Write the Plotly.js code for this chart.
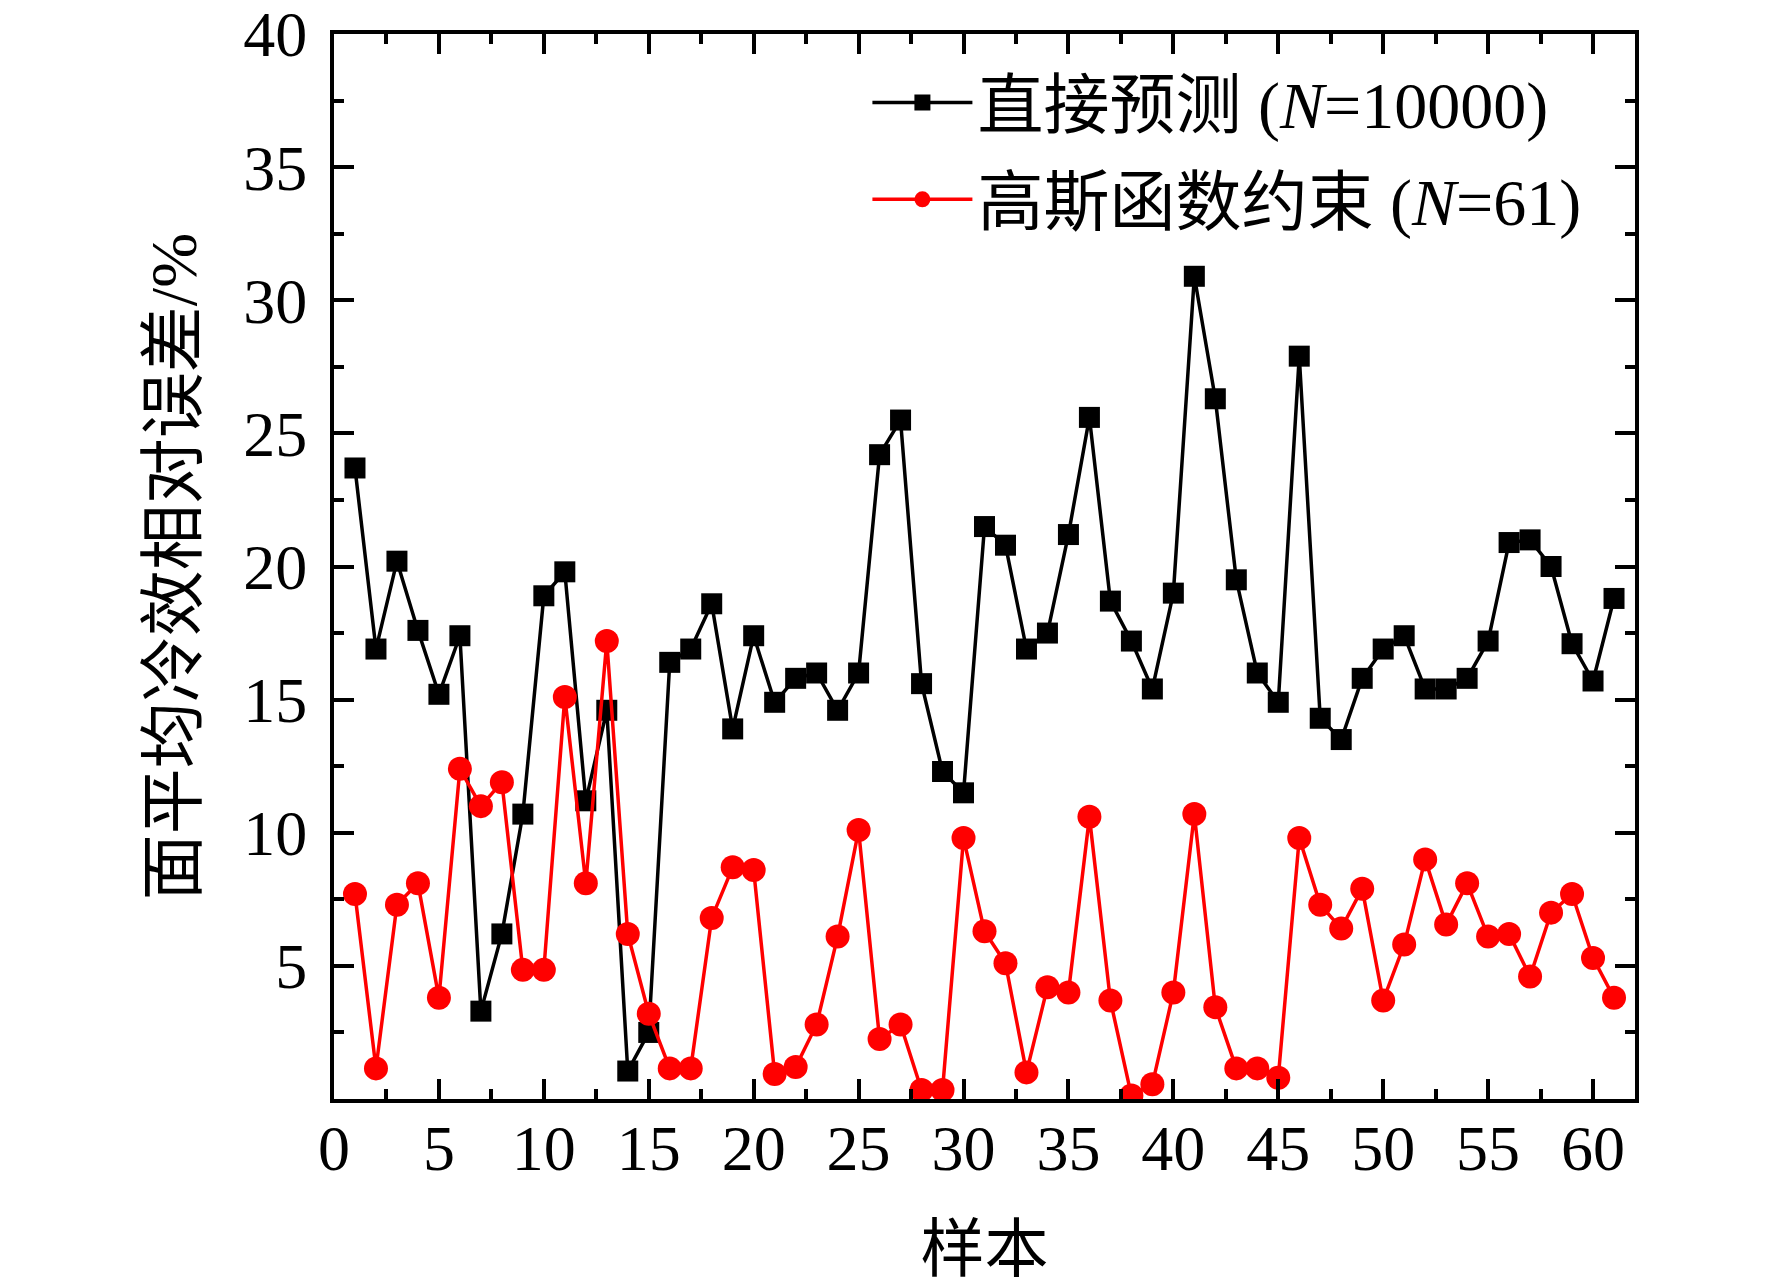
<!DOCTYPE html>
<html>
<head>
<meta charset="utf-8">
<script src="https://cdn.plot.ly/plotly-3.0.1.min.js"></script>
<style>html,body{margin:0;padding:0;background:#fff;}#chart{width:1772px;height:1285px;}</style>
</head>
<body>
<div id="chart"></div>
<script>
const samples = Array.from({length: 61}, (_, i) => i + 1);
const directPred = [23.7,16.9,20.2,17.6,15.2,17.4,3.3,6.2,10.7,18.9,19.8,11.2,14.6,1.05,2.5,16.4,16.9,18.6,13.9,17.4,14.9,15.8,16.0,14.6,16.0,24.2,25.5,15.6,12.3,11.5,21.5,20.8,16.9,17.5,21.2,25.6,18.7,17.2,15.4,19.0,30.9,26.3,19.5,16.0,14.9,27.9,14.3,13.5,15.8,16.9,17.4,15.4,15.4,15.8,17.2,20.9,21.0,20.0,17.1,15.7,18.8];
const gaussConstr = [7.7,1.15,7.3,8.1,3.8,12.4,11.0,11.9,4.85,4.85,15.1,8.1,17.2,6.2,3.2,1.15,1.15,6.8,8.7,8.6,0.94,1.2,2.8,6.1,10.1,2.25,2.8,0.34,0.34,9.8,6.3,5.1,1.0,4.2,4.0,10.6,3.7,0.13,0.55,4.0,10.7,3.45,1.15,1.15,0.8,9.8,7.3,6.4,7.9,3.7,5.8,9.0,6.55,8.1,6.1,6.2,4.6,7.0,7.7,5.3,3.8];
const seriesNames = ['直接预测 (<i>N</i>=10000)', '高斯函数约束 (<i>N</i>=61)'];
const xTickVals = [0,5,10,15,20,25,30,35,40,45,50,55,60];
const yTickVals = [5,10,15,20,25,30,35,40];
const xTitle = '样本';
const yTitle = '面平均冷效相对误差/%';

const FONT = '"Liberation Serif", "Times New Roman", "Noto Sans CJK SC", serif';

const traces = [
  {x: samples, y: directPred, name: seriesNames[0], legendgroup: 'a', type: 'scatter', mode: 'lines+markers',
   line: {color: '#000000', width: 3.5}, marker: {symbol: 'square', size: 21, color: '#000000'}},
  {x: samples, y: gaussConstr, name: seriesNames[1], legendgroup: 'b', type: 'scatter', mode: 'lines+markers',
   line: {color: '#ff0000', width: 3.5}, marker: {symbol: 'circle', size: 24, color: '#ff0000'}}
];

const axisCommon = {
  showline: true, linewidth: 4, linecolor: '#000', mirror: 'ticks',
  ticks: 'inside', ticklen: 20, tickwidth: 4, tickcolor: '#000',
  showgrid: false, zeroline: false, ticklabeloverflow: 'allow',
  tickfont: {family: FONT, size: 64, color: '#000'},
  minor: {ticks: 'inside', ticklen: 10, tickwidth: 4, tickcolor: '#000', showgrid: false}
};

const layout = {
  width: 1772, height: 1285,
  margin: {l: 334, r: 137, t: 34, b: 186},
  paper_bgcolor: '#fff', plot_bgcolor: '#fff',
  font: {family: FONT, color: '#000'},
  showlegend: true,
  legend: {x: 0.41, y: 0.982, xanchor: 'left', yanchor: 'top', tracegroupgap: 8,
           font: {family: FONT, size: 66, color: '#000'}, bgcolor: 'rgba(0,0,0,0)',
           itemwidth: 100},
  xaxis: Object.assign({}, axisCommon, {
    range: [0, 62], tickmode: 'array', tickvals: xTickVals, ticktext: xTickVals.map(String),
    minor: Object.assign({}, axisCommon.minor, {dtick: 2.5, tick0: 0}),
    ticklabelstandoff: -10,
    title: {text: xTitle, font: {family: FONT, size: 64, color: '#000'}, standoff: 58}
  }),
  yaxis: Object.assign({}, axisCommon, {
    range: [0, 40], tickmode: 'array', tickvals: yTickVals, ticktext: yTickVals.map(String),
    minor: Object.assign({}, axisCommon.minor, {dtick: 2.5, tick0: 0}),
    ticklabelstandoff: 10,
    title: {text: yTitle, font: {family: FONT, size: 66, color: '#000'}, standoff: 26}
  })
};

Plotly.newPlot('chart', traces, layout, {displayModeBar: false, staticPlot: true});
</script>
</body>
</html>
